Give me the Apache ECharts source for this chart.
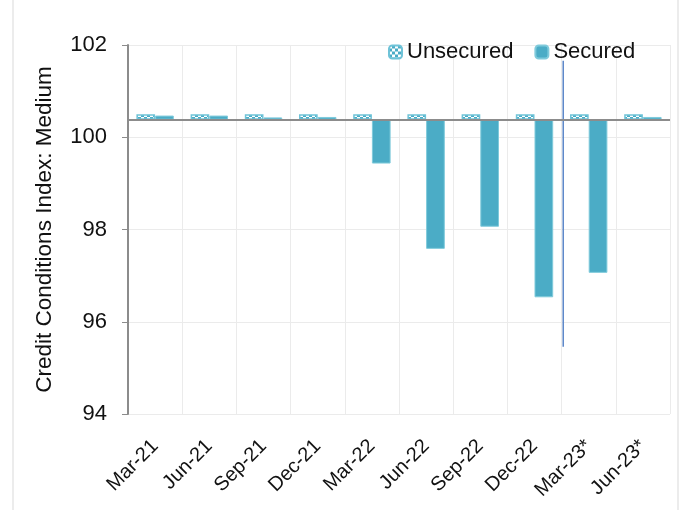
<!DOCTYPE html>
<html><head><meta charset="utf-8">
<script src="https://cdn.jsdelivr.net/npm/echarts@6/dist/echarts.min.js"></script>
<style>html,body{margin:0;padding:0;background:#fff}#c{width:680px;height:510px}</style>
</head><body><div id="c"></div>
<script>
const categories = ['Mar-21','Jun-21','Sep-21','Dec-21','Mar-22','Jun-22','Sep-22','Dec-22','Mar-23*','Jun-23*'];
const unsecured = [100.5,100.5,100.5,100.5,100.5,100.5,100.5,100.5,100.5,100.5];
const secured = [100.47,100.47,100.43,100.44,99.43,97.58,98.06,96.53,97.06,100.44];
const baselineValue = 100.38;
const yTicks = [94,96,98,100,102];
const separatorX = [8.03, 8.03];
const separatorY = [95.46, 101.66];

const FONT = 'Liberation Sans';
const teal = '#4BACC6';

const pc = document.createElement('canvas');
pc.width = 6; pc.height = 6;
const g = pc.getContext('2d');
g.fillStyle = teal; g.fillRect(0,0,6,6);
g.fillStyle = '#ffffff'; g.fillRect(0,0,3,3); g.fillRect(3,3,3,3);

const chart = echarts.init(document.getElementById('c'), null, {renderer:'canvas'});
chart.setOption({
  animation:false,
  backgroundColor:'#fff',
  textStyle:{fontFamily:FONT},
  grid:{left:128,right:10,top:45,bottom:96},
  graphic:[{type:'rect',shape:{x:13,y:-5,width:665,height:530},style:{fill:'none',stroke:'#D9D9D9',lineWidth:1},z:-1}],
  legend:{
    left:383, top:36, itemWidth:13, itemHeight:13, itemGap:21,
    textStyle:{fontFamily:FONT,fontSize:22,color:'#111'},
    data:['Unsecured','Secured']
  },
  xAxis:[{
    type:'category', data:categories, boundaryGap:true,
    axisLine:{show:false}, axisTick:{show:false},
    splitLine:{show:true,lineStyle:{color:'#EBEBEB',width:1}},
    axisLabel:{rotate:45,fontFamily:FONT,fontSize:20,color:'#111',margin:29,interval:0}
  },{
    type:'value', min:0, max:10, show:false
  }],
  yAxis:{
    type:'value', min:yTicks[0], max:yTicks[yTicks.length-1], interval:2, startValue:baselineValue,
    name:'Credit Conditions Index: Medium', nameLocation:'middle', nameGap:72,
    nameTextStyle:{fontFamily:FONT,fontSize:22.5,color:'#111'},
    axisLine:{show:true,lineStyle:{color:'#8C8C8C',width:2}},
    axisTick:{show:true,inside:false,length:6,lineStyle:{color:'#8C8C8C',width:1}},
    splitLine:{show:true,lineStyle:{color:'#EBEBEB',width:1}},
    axisLabel:{fontFamily:FONT,fontSize:22,color:'#111',margin:21}
  },
  series:[
    {name:'Unsecured',type:'bar',data:unsecured,barGap:'0%',barCategoryGap:'31%',
     itemStyle:{color:{image:pc,repeat:'repeat'},borderColor:'#6FC3D8',borderWidth:1.5},
     markLine:{silent:true,symbol:'none',label:{show:false},lineStyle:{color:'#8C8C8C',width:2,type:'solid'},data:[{yAxis:baselineValue}]}
    },
    {name:'Secured',type:'bar',data:secured,
     itemStyle:{color:teal,borderColor:'#7FCADB',borderWidth:1}},
    {name:'sep',type:'line',xAxisIndex:1,symbol:'none',silent:true,
     data:[[separatorX[0],separatorY[0]],[separatorX[1],separatorY[1]]],
     lineStyle:{color:'#5B86C8',width:1.5}}
  ]
});
</script></body></html>
